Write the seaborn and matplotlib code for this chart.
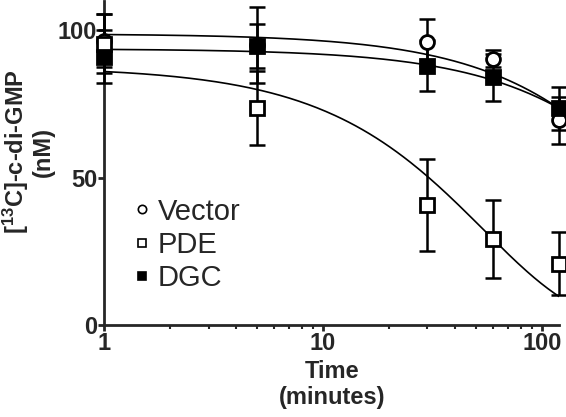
import numpy as np
import pandas as pd
import matplotlib
matplotlib.use("Agg")
import matplotlib.pyplot as plt
import seaborn as sns

# measured points (time in minutes, mean, error)
times = [1, 5, 30, 60, 120]
vector_mean = [96.5, 95.0, 96.0, 90.4, 69.5]
vector_err = [9.0, 13.0, 8.0, 3.0, 8.0]
pde_mean = [95.5, 73.6, 40.8, 29.1, 20.8]
pde_err = [10.0, 12.5, 15.6, 13.3, 10.7]
dgc_mean = [91.0, 94.6, 88.0, 84.1, 73.5]
dgc_err = [9.0, 7.4, 8.6, 8.0, 7.2]

# one-phase decay fits: (Y0, k)
fit_params = {"Vector": (98.8, 0.00247), "PDE": (87.6, 0.01843), "DGC": (93.7, 0.00202)}

sns.set_style("ticks")
plt.rcParams['font.family'] = ['Liberation Sans', 'DejaVu Sans']

fig = plt.figure(figsize=(5.66, 4.17), dpi=100)
ax = fig.add_axes([0.184, 0.221, 0.804, 0.777])

# fitted curves
t_fit = np.logspace(0, np.log10(120), 200)
rows = []
for name, (y0, k) in fit_params.items():
    for t in t_fit:
        rows.append({"Time": t, "Value": y0 * np.exp(-k * t), "Group": name})
fit_df = pd.DataFrame(rows)
sns.lineplot(data=fit_df, x="Time", y="Value", units="Group", estimator=None,
             color="black", lw=1.2, ax=ax, legend=False)

# error bars
for mean, err in [(vector_mean, vector_err), (pde_mean, pde_err), (dgc_mean, dgc_err)]:
    ax.errorbar(times, mean, yerr=err, fmt="none", ecolor="black", elinewidth=1.8,
                capsize=6, capthick=1.8, clip_on=False, zorder=3)

# markers
ax.plot(times, vector_mean, "o", ms=10, mfc="white", mec="black", mew=2, clip_on=False, zorder=4)
ax.plot(times, pde_mean, "s", ms=10, mfc="white", mec="black", mew=2, clip_on=False, zorder=4)
ax.plot(times, dgc_mean, "s", ms=10, mfc="black", mec="black", mew=2, clip_on=False, zorder=5)

# legend handles
h1 = plt.Line2D([], [], ls="none", marker="o", ms=6, mfc="white", mec="black", mew=1.2)
h2 = plt.Line2D([], [], ls="none", marker="s", ms=6, mfc="white", mec="black", mew=1.2)
h3 = plt.Line2D([], [], ls="none", marker="s", ms=6, mfc="black", mec="black", mew=1.2)
ax.legend([h1, h2, h3], ["Vector", "PDE", "DGC"], loc="lower left",
          bbox_to_anchor=(0.0, 0.02), frameon=False, fontsize=21,
          handletextpad=0.15, labelspacing=0.18, handlelength=0.8)

ax.set_xscale("log")
ax.set_xlim(1, 120)
ax.set_ylim(0, 110)
ax.set_yticks([0, 50, 100])
ax.set_xticks([1, 10, 100])
ax.set_xticklabels(["1", "10", "100"])

for side in ["top", "right"]:
    ax.spines[side].set_visible(False)
for side in ["left", "bottom"]:
    ax.spines[side].set_linewidth(2)

ax.tick_params(axis="both", which="major", width=2, length=4, labelsize=17, pad=1)
ax.tick_params(axis="x", which="minor", width=1.5, length=3)
for lab in ax.get_xticklabels() + ax.get_yticklabels():
    lab.set_fontweight("bold")

ax.set_xlabel("Time\n(minutes)", fontsize=17, fontweight="bold", labelpad=4, linespacing=1.15)
ax.set_ylabel("[$\\mathregular{^{13}}$C]-c-di-GMP\n(nM)", fontsize=17, fontweight="bold",
              linespacing=1.05)
ax.yaxis.set_label_coords(-0.108, 0.534)

fig.savefig("out.png", dpi=100)
